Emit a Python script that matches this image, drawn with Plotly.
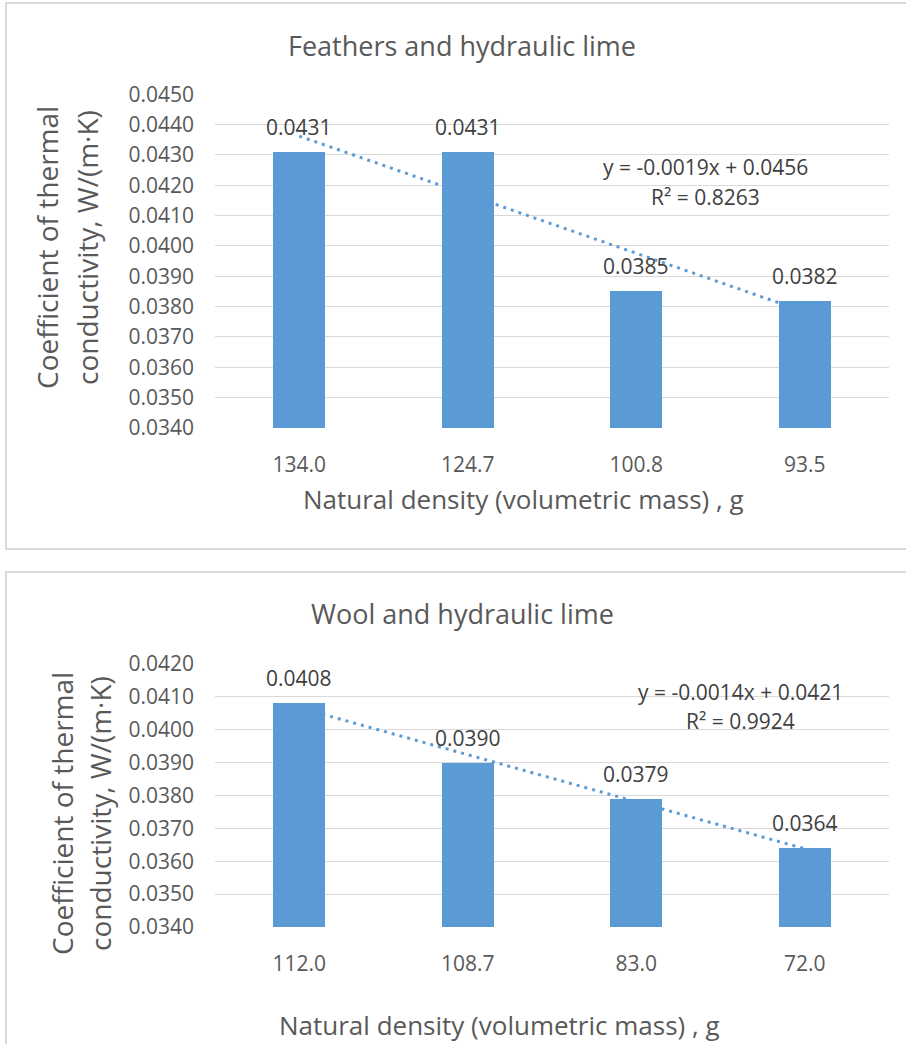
import numpy as np
import plotly.graph_objects as go

# ---------------- data ----------------
feathers_density = ["134.0", "124.7", "100.8", "93.5"]
feathers_lambda = [0.0431, 0.0431, 0.0385, 0.0382]
feathers_eq = "y = -0.0019x + 0.0456"
feathers_r2 = "R² = 0.8263"

wool_density = ["112.0", "108.7", "83.0", "72.0"]
wool_lambda = [0.0408, 0.0390, 0.0379, 0.0364]
wool_eq = "y = -0.0014x + 0.0421"
wool_r2 = "R² = 0.9924"

title1 = "Feathers and hydraulic lime"
title2 = "Wool and hydraulic lime"
ytitle_l1 = "Coefficient of thermal"
ytitle_l2 = "conductivity, W/(m·K)"
xtitle = "Natural density (volumetric mass) , g"

# ---------------- style ----------------
W, H = 906, 1044
FONT = "Open Sans"
BAR = "#5B9BD5"
GRID = "#D9D9D9"
TXT = "#595959"
LBL = "#404040"


def px(x):
    return x / W


def py(y):
    return 1 - y / H


fig = go.Figure()

pos = [1, 2, 3, 4]
for vals, xa, ya in [(feathers_lambda, "x", "y"), (wool_lambda, "x2", "y2")]:
    fig.add_trace(go.Bar(x=pos, y=vals, marker=dict(color=BAR, line=dict(width=0)),
                         width=0.31, xaxis=xa, yaxis=ya, showlegend=False, hoverinfo="skip"))
    coef = np.polyfit(pos, vals, 1)
    fig.add_trace(go.Scatter(x=pos, y=np.polyval(coef, pos), mode="lines",
                             line=dict(color=BAR, width=3, dash="3px,5px"),
                             xaxis=xa, yaxis=ya, showlegend=False, hoverinfo="skip"))

yaxis_common = dict(showgrid=True, gridcolor=GRID, gridwidth=1, zeroline=False,
                    showline=False, ticks="", tickformat=".4f", dtick=0.001, automargin=False,
                    tickfont=dict(family=FONT, size=21, color=TXT), ticklabelstandoff=20)
xaxis_common = dict(showgrid=False, zeroline=False, showline=False, ticks="", automargin=False,
                    range=[0.5, 4.5], tickmode="array", tickvals=pos,
                    tickfont=dict(family=FONT, size=21, color=TXT), ticklabelstandoff=22)

fig.update_layout(
    width=W, height=H, autosize=False,
    margin=dict(l=0, r=0, t=0, b=0, pad=0, autoexpand=False),
    paper_bgcolor="white", plot_bgcolor="white",
    bargap=0,
    xaxis=dict(domain=[px(215), px(889)], anchor="y", ticktext=feathers_density, **xaxis_common),
    yaxis=dict(domain=[py(428), py(94.3)], anchor="x", range=[0.0340, 0.0450], **yaxis_common),
    xaxis2=dict(domain=[px(215), px(889)], anchor="y2", ticktext=wool_density, **xaxis_common),
    yaxis2=dict(domain=[py(927), py(664)], anchor="x2", range=[0.0340, 0.0420], **yaxis_common),
)

ann = []
for vals, xr, yr in [(feathers_lambda, "x", "y"), (wool_lambda, "x2", "y2")]:
    for p, v in zip(pos, vals):
        ann.append(dict(x=p, y=v, xref=xr, yref=yr, text=f"{v:.4f}", showarrow=False,
                        yanchor="middle", yshift=25,
                        font=dict(family=FONT, size=21, color=LBL)))


def txt(x, y, s, size, color=TXT, angle=0):
    ann.append(dict(x=px(x), y=py(y), xref="paper", yref="paper", text=s, showarrow=False,
                    xanchor="center", yanchor="middle", textangle=angle,
                    font=dict(family=FONT, size=size, color=color)))


txt(462, 45, title1, 27)
txt(47, 248, ytitle_l1, 28, angle=-90)
txt(87, 248, ytitle_l2, 28, angle=-90)
txt(523, 499, xtitle, 26)
txt(705, 167, feathers_eq, 21, LBL)
txt(705, 197, feathers_r2, 21, LBL)

txt(462, 613, title2, 27)
txt(62, 814, ytitle_l1, 28, angle=-90)
txt(100, 814, ytitle_l2, 28, angle=-90)
txt(499, 1025, xtitle, 26)
txt(740, 692, wool_eq, 21, LBL)
txt(740, 721, wool_r2, 21, LBL)

fig.update_layout(annotations=ann)

fig.add_shape(type="rect", xref="paper", yref="paper", x0=px(6), x1=px(920), y0=py(549), y1=py(3),
              line=dict(color=GRID, width=2), fillcolor="rgba(0,0,0,0)", layer="below")
fig.add_shape(type="rect", xref="paper", yref="paper", x0=px(6), x1=px(920), y0=py(1060), y1=py(572),
              line=dict(color=GRID, width=2), fillcolor="rgba(0,0,0,0)", layer="below")

post = ("var gd=document.getElementById('{plot_id}');"
        "gd.style.position='fixed';gd.style.top='0px';gd.style.left='0px';"
        "document.body.style.margin='0';document.body.style.padding='0';"
        "document.documentElement.style.overflow='hidden';document.body.style.overflow='hidden';")

fig.write_html("out.html", config={"displayModeBar": False, "staticPlot": True},
               post_script=post)
